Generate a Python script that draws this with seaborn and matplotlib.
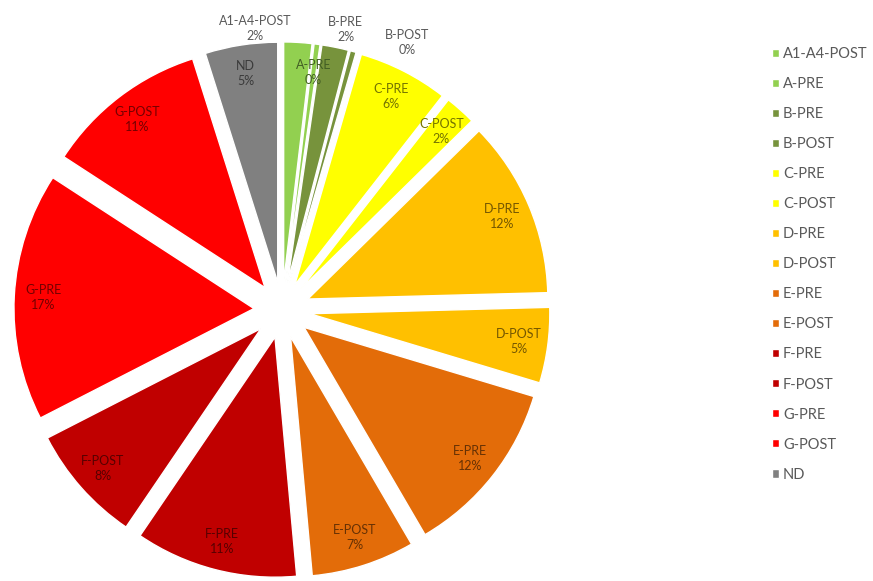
import numpy as np
import matplotlib
matplotlib.use("Agg")
import matplotlib.pyplot as plt
import matplotlib.colors as mcolors
import seaborn as sns

# ---- data ----
categories = ["A1-A4-POST", "A-PRE", "B-PRE", "B-POST", "C-PRE", "C-POST",
              "D-PRE", "D-POST", "E-PRE", "E-POST", "F-PRE", "F-POST",
              "G-PRE", "G-POST", "ND"]
values = [1.9, 0.4, 1.8, 0.4, 6.1, 2.1, 12.0, 5.1, 12.0, 7.0, 11.0, 8.0, 16.8, 11.0, 4.9]

# ---- styles ----
slice_colors = ["#92D050", "#92D050", "#77933C", "#77933C", "#FFFF00", "#FFFF00",
                "#FFC000", "#FFC000", "#E36C09", "#E36C09", "#C00000", "#C00000",
                "#FF0000", "#FF0000", "#808080"]
# labels moved outside for the tiny slices: (angle clockwise from top in deg, radius)
label_overrides = {"A1-A4-POST": (-5.4, 1.18), "B-PRE": (12.8, 1.20), "B-POST": (25.0, 1.23)}

sns.set_theme(style="white")
plt.rcParams["font.family"] = ["Lato", "DejaVu Sans"]

W, H = 873, 581
CX, CY, R = 282, 310, 240
fig = plt.figure(figsize=(W / 100, H / 100), dpi=100)
ax = fig.add_axes([0, 0, 1, 1])

wedges, _ = ax.pie(values, colors=slice_colors, startangle=90, counterclock=False,
                   explode=[0.117] * len(values), radius=1.0,
                   wedgeprops=dict(edgecolor="white", linewidth=1.0))
ax.set_aspect("auto")
ax.set_xlim(-CX / R, (W - CX) / R)
ax.set_ylim(-(H - CY) / R, CY / R)
ax.axis("off")

total = sum(values)
for w, name, v, c in zip(wedges, categories, values, slice_colors):
    txt = f"{name}\n{v / total * 100:.0f}%"
    if name in label_overrides:
        ang, r = label_overrides[name]
        a = np.deg2rad(90 - ang)
        x, y = r * np.cos(a), r * np.sin(a)
        col = "#595959"
    else:
        mid = np.deg2rad((w.theta1 + w.theta2) / 2)
        cx0, cy0 = w.center
        x, y = cx0 + 0.88 * np.cos(mid), cy0 + 0.88 * np.sin(mid)
        rgb = np.array(mcolors.to_rgb(c)) * 0.45
        col = rgb
    ax.text(x, y, txt, ha="center", va="center", fontsize=9, color=col,
            linespacing=1.3)

fig.legend(wedges, categories, loc="center left", bbox_to_anchor=(0.884, 0.545),
           frameon=False, fontsize=10.5, labelcolor="#595959",
           handlelength=0.48, handleheight=0.48, handletextpad=0.3,
           labelspacing=1.10, borderpad=0, borderaxespad=0)

fig.savefig("out.png", dpi=100)
